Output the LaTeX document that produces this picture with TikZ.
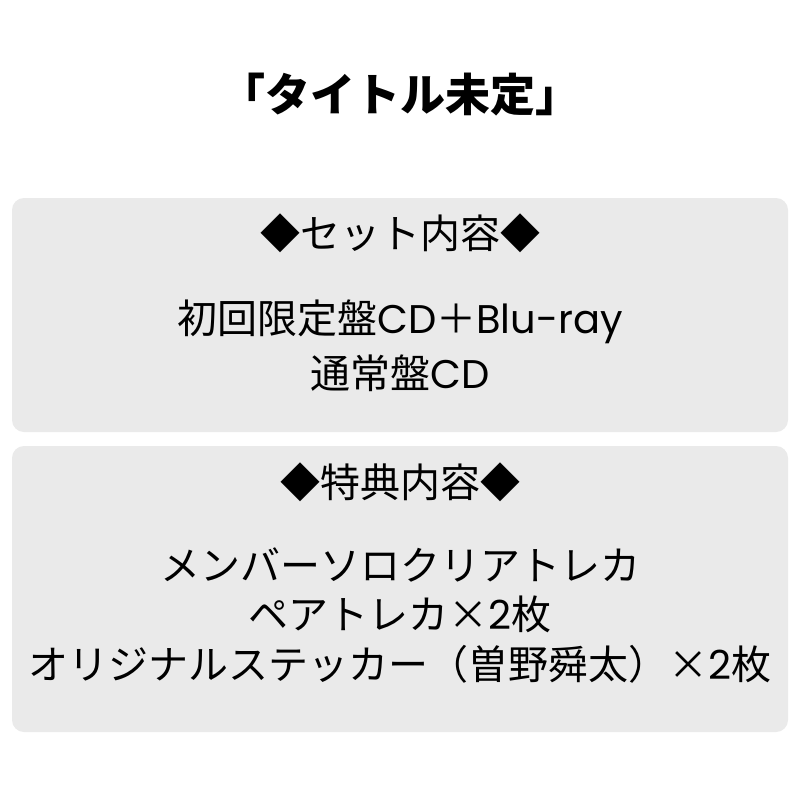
\documentclass[tikz,border=0pt]{standalone}
\usepackage{fontspec}
\setmainfont{Noto Sans CJK JP}
\newfontfamily\lat{Poppins}
\definecolor{boxgray}{HTML}{EAEAEA}
\tikzset{panel/.style={fill=boxgray,rounded corners=12pt,draw=none},
  txt/.style={font=\fontsize{40}{42}\selectfont,inner sep=0pt,anchor=center,text=black}}
\begin{document}
\begin{tikzpicture}[x=1pt,y=-1pt]
\useasboundingbox[fill=white] (0,0) rectangle (800,800);
\node[txt,font=\fontsize{45}{46}\selectfont\bfseries] (title) at (400,95) {「タイトル未定」};
\fill[panel] (12,198) rectangle (788,432);
\fill[panel] (12,446) rectangle (788,732);
\node[txt] (h1) at (400,233) {◆セット内容◆};
\node[txt] (a1) at (400,322) {初回限定盤{\lat CD}＋{\lat Blu-ray}};
\node[txt] (a2) at (400,373) {通常盤{\lat CD}};
\node[txt] (h2) at (400,482) {◆特典内容◆};
\node[txt] (b1) at (400,565) {メンバーソロクリアトレカ};
\node[txt] (b2) at (400,614) {ペアトレカ×{\lat 2}枚};
\node[txt] (b3) at (400,664) {オリジナルステッカー（曽野舜太）×{\lat 2}枚};
\end{tikzpicture}
\end{document}
